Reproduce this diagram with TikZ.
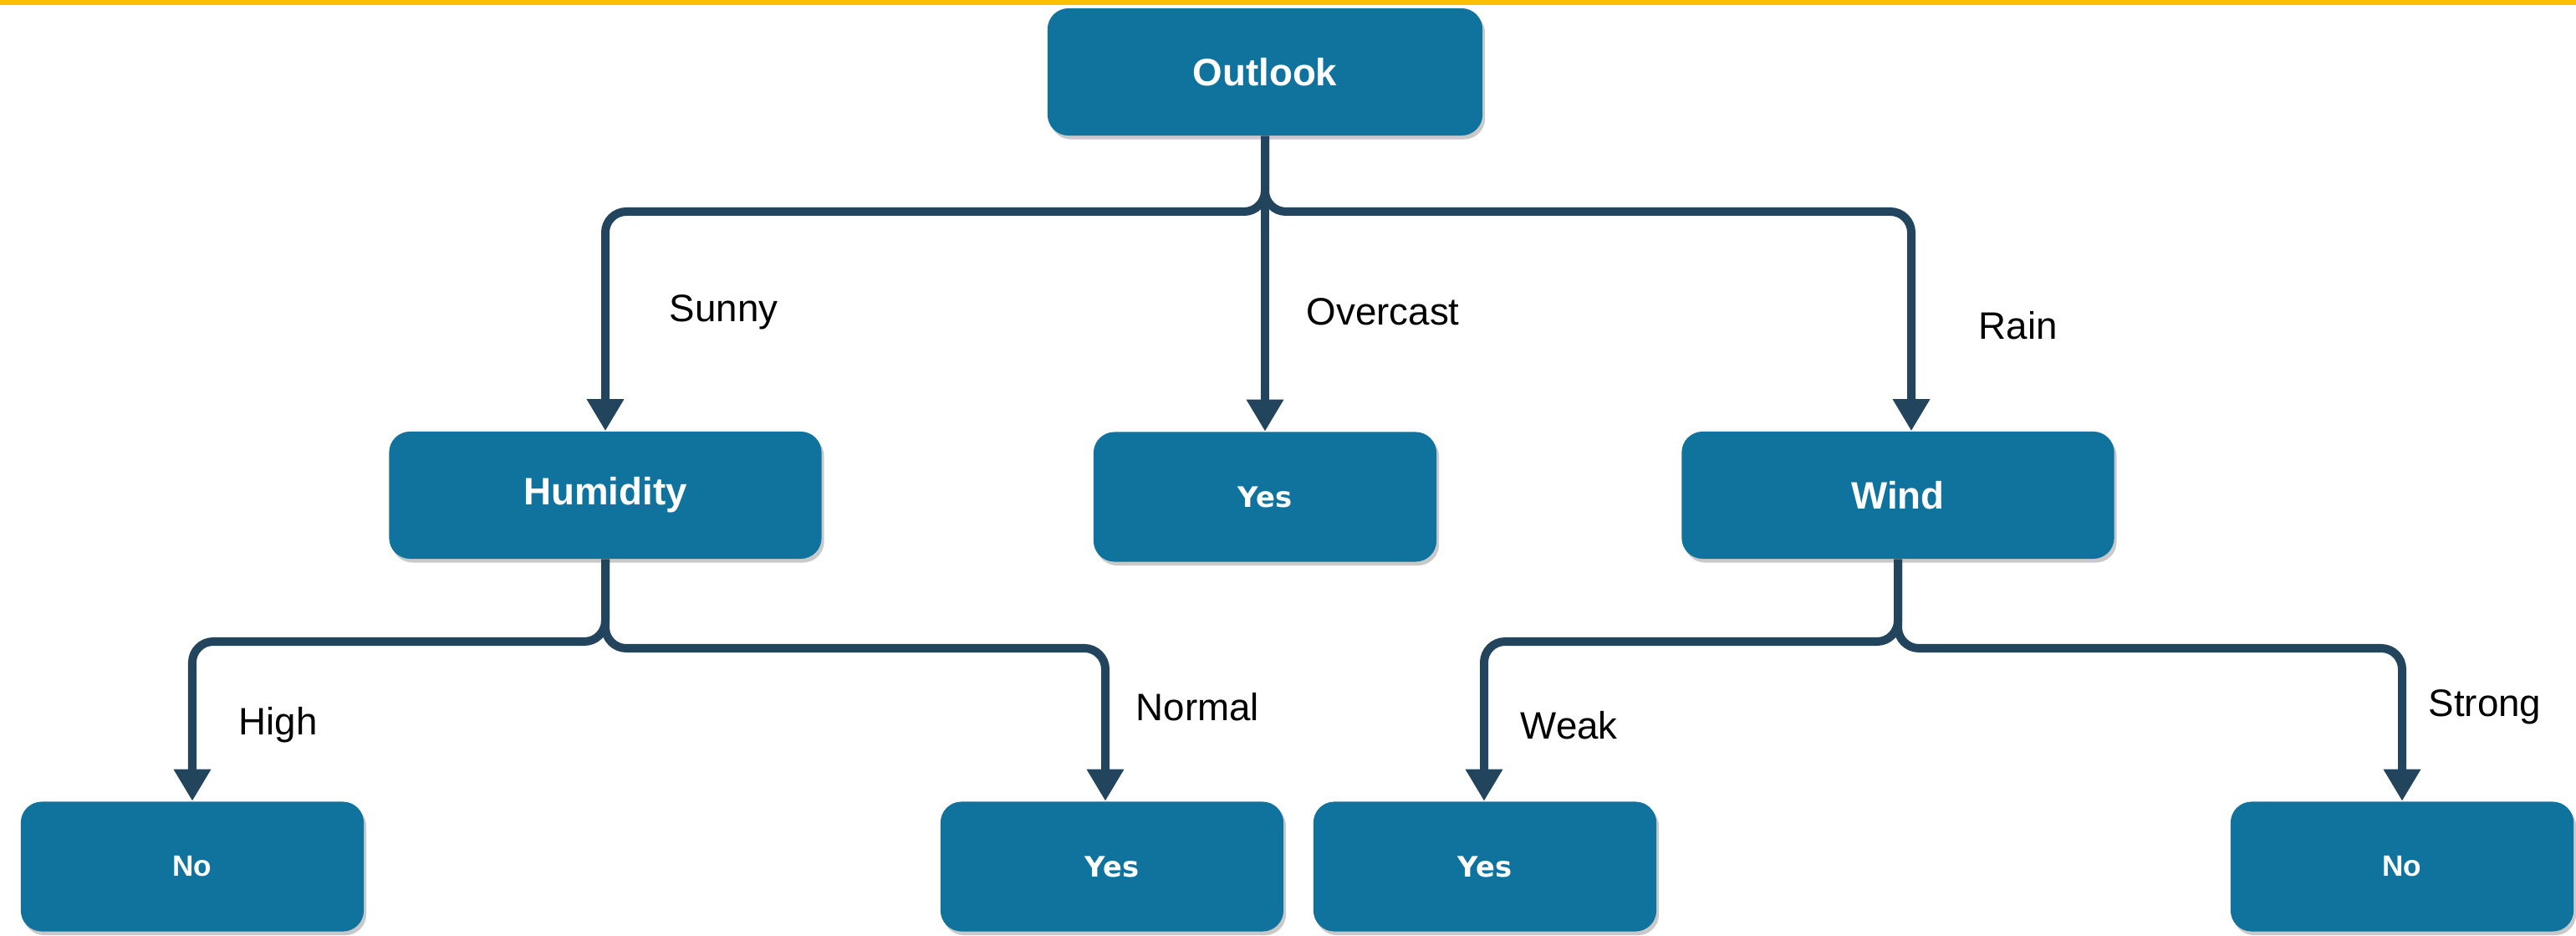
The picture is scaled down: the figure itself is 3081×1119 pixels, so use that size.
\documentclass[tikz,border=0pt]{standalone}
\usepackage{fontspec}
\setmainfont{Liberation Sans}
\newfontfamily\yesfont{DejaVu Sans}
\usetikzlibrary{arrows.meta,shadows}

\definecolor{boxblue}{HTML}{10739E}
\definecolor{linkblue}{HTML}{23445D}
\definecolor{topbar}{HTML}{FFC000}

\begin{document}
\begin{tikzpicture}[x=0.01cm,y=-0.01cm,
  box/.style={rectangle, rounded corners=0.25cm, fill=boxblue, text=white,
    inner sep=0pt, minimum height=1.52cm,
    drop shadow={shadow xshift=0.03cm, shadow yshift=-0.045cm, fill=black!70, opacity=0.3}},
  bigbox/.style={box, minimum width=5.2cm, font=\fontsize{13}{15}\selectfont\bfseries},
  leafbox/.style={box, minimum width=4.1cm, minimum height=1.55cm},
  yestext/.style={font=\yesfont\fontsize{9.6}{11}\selectfont\bfseries},
  notext/.style={font=\fontsize{10}{12}\selectfont\bfseries},
  conn/.style={draw=linkblue, line width=0.1cm, rounded corners=0.25cm,
    -{Triangle[width=0.42cm,length=0.38cm]}},
  lbl/.style={anchor=west, inner sep=0pt, text=black, font=\fontsize{13}{15}\selectfont}
]
\useasboundingbox (0,0) rectangle (3081,1119);
\fill[topbar] (0,0) rectangle (3081,6);

% decision nodes
\node[bigbox] (outlook) at (1513,86) {Outlook};
\node[bigbox, minimum width=5.17cm] (humidity) at (724,592) {Humidity};
\node[leafbox, yestext] (yesmid) at (1513,594) {Yes};
\node[bigbox, minimum width=5.17cm] (wind) at (2270,592) {Wind};

% leaves
\node[leafbox, notext] (noL) at (230,1036) {No};
\node[leafbox, yestext] (yesN) at (1330,1036) {Yes};
\node[leafbox, yestext] (yesW) at (1776,1036) {Yes};
\node[leafbox, notext] (noR) at (2873,1036) {No};

% branch points
\coordinate (ol) at (724,253);
\coordinate (or) at (2286,253);
\coordinate (hl) at (230,767);
\coordinate (hr) at (1322,775);
\coordinate (wl) at (1775,767);
\coordinate (wr) at (2873,775);

% connectors
\draw[conn] (outlook.south) |- (ol) -- (humidity.north);
\draw[conn] (outlook.south) -- (yesmid.north);
\draw[conn] (outlook.south) |- (or) -- (or |- wind.north);
\draw[conn] (humidity.south) |- (hl) -- (hl |- noL.north);
\draw[conn] (humidity.south) |- (hr) -- (hr |- yesN.north);
\draw[conn] (wind.south) |- (wl) -- (wl |- yesW.north);
\draw[conn] (wind.south) |- (wr) -- (wr |- noR.north);

% branch labels
\node[lbl] (lsunny) at (800,373) {Sunny};
\node[lbl] (lover) at (1562,373) {Overcast};
\node[lbl] (lrain) at (2366,389) {Rain};
\node[lbl] (lhigh) at (285,867) {High};
\node[lbl] (lnormal) at (1358,845) {Normal};
\node[lbl] (lweak) at (1818,867) {Weak};
\node[lbl] (lstrong) at (2904,845) {Strong};
\end{tikzpicture}
\end{document}
